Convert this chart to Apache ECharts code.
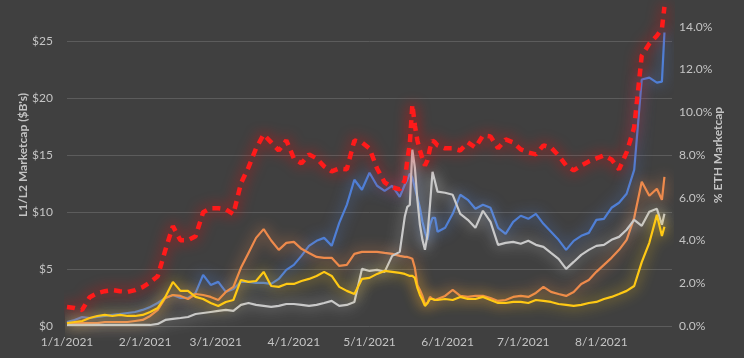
<!DOCTYPE html>
<html><head><meta charset="utf-8">
<script src="https://cdn.jsdelivr.net/npm/echarts@6/dist/echarts.min.js"></script>
<style>html,body{margin:0;padding:0;background:#404040}#c{width:744px;height:358px}</style>
</head><body><div id="c"></div>
<script>
const dates = ['2021-01-01','2021-01-04','2021-01-07','2021-01-10','2021-01-13','2021-01-16','2021-01-19','2021-01-22','2021-01-25','2021-01-28',
'2021-01-31','2021-02-03','2021-02-06','2021-02-09','2021-02-12','2021-02-15','2021-02-18','2021-02-21','2021-02-24','2021-02-27',
'2021-03-02','2021-03-05','2021-03-08','2021-03-11','2021-03-14','2021-03-17','2021-03-20','2021-03-23','2021-03-26','2021-03-29',
'2021-04-01','2021-04-04','2021-04-07','2021-04-10','2021-04-13','2021-04-16','2021-04-19','2021-04-22','2021-04-25','2021-04-28',
'2021-05-01','2021-05-04','2021-05-07','2021-05-10','2021-05-13',
'2021-05-15','2021-05-16','2021-05-17','2021-05-18','2021-05-19','2021-05-20','2021-05-21','2021-05-22','2021-05-23','2021-05-24','2021-05-25','2021-05-26','2021-05-27','2021-05-28',
'2021-05-31','2021-06-03','2021-06-06','2021-06-09','2021-06-12','2021-06-15','2021-06-18','2021-06-21','2021-06-24','2021-06-27',
'2021-06-30','2021-07-03','2021-07-06','2021-07-09','2021-07-12','2021-07-15','2021-07-18','2021-07-21','2021-07-24','2021-07-27',
'2021-07-30','2021-08-02','2021-08-05','2021-08-08','2021-08-11','2021-08-14','2021-08-17','2021-08-20','2021-08-23',
'2021-08-25','2021-08-26'];

// % of ETH market cap (right axis)
const ethShare = [0.89,0.84,0.75,1.35,1.54,1.63,1.68,1.63,1.59,1.68,
1.82,2.05,2.33,3.55,4.67,4.01,4.01,4.20,5.32,5.51,
5.51,5.46,5.23,6.67,7.42,8.31,8.96,8.59,8.21,8.68,
7.84,7.61,8.03,7.84,7.47,7.23,7.37,7.33,8.68,8.59,
8.31,7.37,6.72,6.49,6.39,
6.81,7.75,8.54,10.36,9.38,8.68,8.21,7.84,7.51,7.75,8.31,8.68,8.59,8.45,
8.31,8.31,8.21,8.59,8.35,8.91,8.87,8.31,8.73,8.59,
8.26,8.12,8.03,8.45,8.35,7.98,7.51,7.28,7.51,7.70,
7.84,7.98,7.79,7.33,8.12,9.29,12.65,13.21,13.58,
13.91,14.93];

// L1/L2 market caps, $B (left axis)
const blueCap = [0.35,0.53,0.79,0.70,0.79,0.88,0.97,1.05,1.14,1.23,
1.41,1.67,2.02,2.46,2.72,2.46,2.46,2.90,4.48,3.60,
3.87,2.99,3.25,3.87,3.87,3.78,3.78,3.69,4.13,4.92,
5.36,6.15,7.03,7.47,7.73,7.03,9.05,10.63,12.83,11.95,
13.44,12.30,11.86,12.30,11.33,
12.39,12.83,13.36,13.01,12.13,11.25,10.37,9.14,8.26,7.56,8.88,9.49,9.49,8.26,
8.61,9.84,11.51,11.07,10.28,10.63,10.37,8.61,8.08,9.14,
9.67,9.40,9.84,8.96,8.26,7.56,6.68,7.47,7.91,8.17,
9.31,9.40,10.37,10.81,11.60,13.70,21.62,21.79,21.35,
21.44,25.75];

const orangeCap = [0.26,0.26,0.26,0.26,0.26,0.35,0.35,0.35,0.35,0.44,
0.53,0.88,1.41,2.46,2.72,2.64,2.37,2.81,2.72,2.55,
2.28,2.99,3.43,5.10,6.41,7.73,8.50,7.50,6.68,7.29,
7.38,6.77,6.41,6.06,5.98,5.98,5.27,5.36,6.33,6.50,
6.50,6.50,6.41,6.33,6.15,
6.06,6.06,5.98,5.89,5.10,3.60,3.16,2.64,1.93,2.02,2.55,2.37,2.28,2.37,
2.64,3.16,2.64,2.55,2.64,2.64,2.46,2.20,2.28,2.55,
2.64,2.55,2.90,3.43,2.99,2.81,2.64,2.99,3.69,4.04,
4.75,5.36,5.98,6.68,7.56,9.49,12.65,11.42,12.04,
11.07,13.09];

const grayCap = [0.09,0.09,0.09,0.09,0.09,0.09,0.09,0.09,0.09,0.09,
0.09,0.09,0.18,0.53,0.62,0.70,0.79,1.05,1.14,1.23,
1.32,1.41,1.32,1.85,2.02,1.85,1.76,1.67,1.76,1.93,
1.93,1.85,1.76,1.85,2.02,2.20,1.76,1.85,2.11,5.01,
4.83,4.92,4.75,6.15,6.50,
9.60,10.46,10.63,15.47,13.88,11.07,8.88,7.56,6.68,8.00,10.63,13.53,12.65,11.78,
11.69,11.51,9.84,9.31,8.61,10.11,9.14,7.12,7.29,7.38,
7.21,7.47,7.12,6.94,6.41,5.89,5.01,5.62,6.24,6.68,
7.03,7.12,7.56,7.82,8.44,9.31,8.79,10.02,10.28,
8.88,9.84];

const yellowCap = [0.26,0.35,0.44,0.70,0.88,0.97,0.88,0.97,0.88,0.88,
0.97,1.23,1.58,2.55,3.87,3.08,3.08,2.55,2.37,2.02,
1.76,2.11,2.28,4.04,3.87,3.95,4.75,3.51,3.43,3.69,
3.69,3.95,4.13,4.39,4.75,4.39,3.43,3.08,2.81,4.13,
4.22,4.57,4.83,4.75,4.66,
4.57,4.48,4.39,4.39,4.22,3.34,2.72,2.28,1.76,2.02,2.37,2.37,2.28,2.28,
2.37,2.28,2.55,2.37,2.37,2.55,2.28,2.02,2.02,2.11,
2.11,2.02,2.28,2.20,2.11,1.93,1.85,1.76,1.85,2.02,
2.11,2.37,2.55,2.81,3.08,3.51,5.60,7.30,9.75,
7.90,8.70];

const monthTicks = ['2021-01-01','2021-02-01','2021-03-01','2021-04-01','2021-05-01','2021-06-01','2021-07-01','2021-08-01'];
const monthLabels = ['1/1/2021','2/1/2021','3/1/2021','4/1/2021','5/1/2021','6/1/2021','7/1/2021','8/1/2021'];

const t0 = Date.parse('2021-01-01');
const dayOf = d => Math.round((Date.parse(d) - t0) / 86400000);
const xs = dates.map(dayOf);
const tickDays = monthTicks.map(dayOf);
const pairs = vals => vals.map((v, i) => [xs[i], v]);

const font = 'Lato, "Open Sans", sans-serif';
const txt = '#c4c4c4';

function glowLine(name, vals, color, yIdx, extra) {
  return Object.assign({
    name, type: 'line', yAxisIndex: yIdx, data: pairs(vals),
    showSymbol: false, symbol: 'none', animation: false, clip: false,
    lineStyle: { color, width: 2.2, shadowBlur: 14, shadowColor: color }
  }, extra || {});
}

const chart = echarts.init(document.getElementById('c'), null, { renderer: 'canvas' });
chart.setOption({
  backgroundColor: '#404040',
  animation: false,
  grid: { left: 67, right: 72, top: -16, bottom: 32, containLabel: false, outerBoundsMode: 'none' },
  xAxis: {
    type: 'value', min: 0, max: 240,
    axisLine: { show: false }, axisTick: { show: false }, splitLine: { show: false },
    axisLabel: {
      customValues: tickDays,
      formatter: v => monthLabels[tickDays.indexOf(v)] || '',
      color: txt, fontFamily: font, fontSize: 12, margin: 10
    }
  },
  yAxis: [{
    type: 'value', min: 0, max: 30, interval: 5,
    axisLine: { show: false }, axisTick: { show: false },
    axisLabel: { formatter: v => '$' + v, color: txt, fontFamily: font, fontSize: 12, margin: 14 },
    splitLine: { lineStyle: { color: '#5c5c5c', width: 1 } },
    name: "L1/L2 Marketcap ($B's)", nameLocation: 'middle', nameRotate: 90, nameGap: 38,
    nameMoveOverlap: false,
    nameTextStyle: { color: txt, fontFamily: font, fontSize: 12, fontWeight: 'bold' }
  }, {
    type: 'value', min: 0, max: 16, interval: 2, position: 'right',
    axisLine: { show: false }, axisTick: { show: false }, splitLine: { show: false },
    axisLabel: { formatter: v => v.toFixed(1) + '%', color: txt, fontFamily: font, fontSize: 12, margin: 7 },
    name: '% ETH Marketcap', nameLocation: 'middle', nameRotate: 90, nameGap: 40,
    nameMoveOverlap: false,
    nameTextStyle: { color: txt, fontFamily: font, fontSize: 12, fontWeight: 'bold' }
  }],
  series: [
    glowLine('Blue', blueCap, '#4f7fd6', 0),
    glowLine('Orange', orangeCap, '#ee8a4c', 0),
    glowLine('Gray', grayCap, '#c9c9c9', 0),
    glowLine('Yellow', yellowCap, '#ffc914', 0),
    glowLine('% of ETH', ethShare, '#ff1a1a', 1, {
      lineStyle: { color: '#ff1a1a', width: 4.5, type: [8, 6], cap: 'butt', shadowBlur: 14, shadowColor: '#ff0000' }
    })
  ]
});
</script>
</body></html>
